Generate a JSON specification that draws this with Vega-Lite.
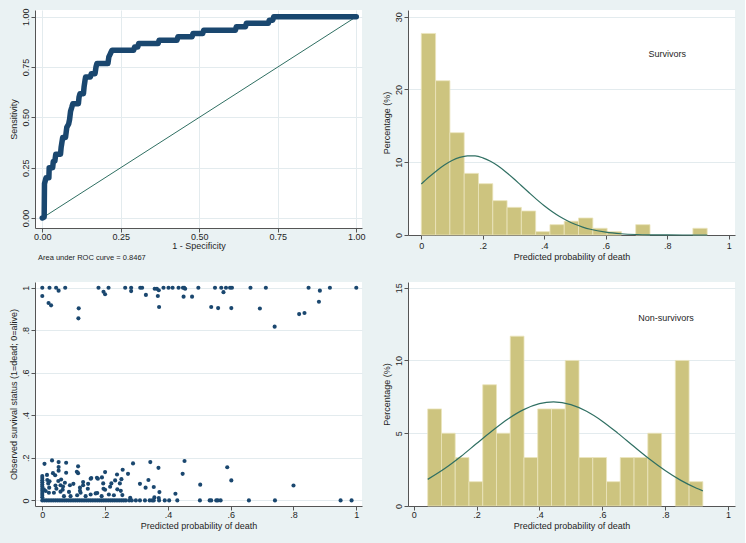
{
  "$schema": "https://vega.github.io/schema/vega-lite/v6.json",
  "background": "#eaf2f3",
  "padding": {"left": 9, "top": 7, "right": 10, "bottom": 15},
  "bounds": "flush",
  "columns": 2,
  "spacing": {"row": 47, "column": 46},
  "config": {
    "view": {"fill": "white", "stroke": null},
    "axis": {
      "domainColor": "#555555", "tickColor": "#555555", "domainWidth": 1, "tickWidth": 1, "tickSize": 4,
      "labelFont": "Liberation Sans", "labelFontSize": 9, "labelColor": "#1e1e1e",
      "titleFont": "Liberation Sans", "titleFontSize": 9, "titleFontWeight": "normal", "titleColor": "#1e1e1e",
      "gridColor": "#e3ebee", "gridWidth": 1, "labelPadding": 2, "titlePadding": 2,
      "labelFlush": false, "labelOverlap": false
    },
    "axisY": {"labelAngle": -90, "labelAlign": "center", "labelBaseline": "bottom", "labelPadding": 1, "titlePadding": 3},
    "text": {"font": "Liberation Sans"}
  },
  "datasets": {
    "roc": [
      {"fpr":0,"tpr":0},{"fpr":0.006,"tpr":0.005},{"fpr":0.007,"tpr":0.17},{"fpr":0.012,"tpr":0.2},{"fpr":0.021,"tpr":0.2},{"fpr":0.022,"tpr":0.25},{"fpr":0.033,"tpr":0.25},{"fpr":0.035,"tpr":0.28},{"fpr":0.04,"tpr":0.283},{"fpr":0.043,"tpr":0.317},{"fpr":0.058,"tpr":0.317},{"fpr":0.06,"tpr":0.35},{"fpr":0.062,"tpr":0.37},{"fpr":0.065,"tpr":0.4},{"fpr":0.074,"tpr":0.4},{"fpr":0.078,"tpr":0.45},{"fpr":0.084,"tpr":0.467},{"fpr":0.087,"tpr":0.49},{"fpr":0.09,"tpr":0.53},{"fpr":0.094,"tpr":0.55},{"fpr":0.097,"tpr":0.567},{"fpr":0.115,"tpr":0.567},{"fpr":0.117,"tpr":0.6},{"fpr":0.12,"tpr":0.617},{"fpr":0.131,"tpr":0.617},{"fpr":0.133,"tpr":0.65},{"fpr":0.136,"tpr":0.683},{"fpr":0.138,"tpr":0.7},{"fpr":0.153,"tpr":0.7},{"fpr":0.156,"tpr":0.717},{"fpr":0.168,"tpr":0.717},{"fpr":0.171,"tpr":0.75},{"fpr":0.174,"tpr":0.767},{"fpr":0.209,"tpr":0.767},{"fpr":0.212,"tpr":0.8},{"fpr":0.217,"tpr":0.817},{"fpr":0.222,"tpr":0.833},{"fpr":0.291,"tpr":0.833},{"fpr":0.294,"tpr":0.85},{"fpr":0.304,"tpr":0.85},{"fpr":0.307,"tpr":0.867},{"fpr":0.369,"tpr":0.867},{"fpr":0.372,"tpr":0.883},{"fpr":0.429,"tpr":0.883},{"fpr":0.432,"tpr":0.9},{"fpr":0.477,"tpr":0.9},{"fpr":0.48,"tpr":0.917},{"fpr":0.511,"tpr":0.917},{"fpr":0.514,"tpr":0.933},{"fpr":0.615,"tpr":0.933},{"fpr":0.618,"tpr":0.95},{"fpr":0.647,"tpr":0.95},{"fpr":0.65,"tpr":0.967},{"fpr":0.72,"tpr":0.967},{"fpr":0.723,"tpr":0.983},{"fpr":0.734,"tpr":0.983},{"fpr":0.737,"tpr":1},{"fpr":1,"tpr":1}
    ],
    "diag": [{"fpr":0,"tpr":0},{"fpr":1,"tpr":1}],
    "surv": [
      {"b0":0,"b1":0.0465,"pct":27.7},{"b0":0.0465,"b1":0.093,"pct":21.2},{"b0":0.093,"b1":0.1395,"pct":14.06},{"b0":0.1395,"b1":0.186,"pct":8.47},{"b0":0.186,"b1":0.2325,"pct":7.05},{"b0":0.2325,"b1":0.279,"pct":4.72},{"b0":0.279,"b1":0.3255,"pct":3.8},{"b0":0.3255,"b1":0.372,"pct":3.3},{"b0":0.372,"b1":0.4185,"pct":0.46},{"b0":0.4185,"b1":0.465,"pct":1.42},{"b0":0.465,"b1":0.5115,"pct":1.9},{"b0":0.5115,"b1":0.558,"pct":2.34},{"b0":0.558,"b1":0.6045,"pct":0.92},{"b0":0.6045,"b1":0.651,"pct":0.46},{"b0":0.6975,"b1":0.744,"pct":1.42},{"b0":0.8835,"b1":0.93,"pct":0.92}
    ],
    "survCurve": [
      {"p":0,"pct":7.0},{"p":0.025,"pct":7.96},{"p":0.05,"pct":8.84},{"p":0.075,"pct":9.62},{"p":0.1,"pct":10.24},{"p":0.125,"pct":10.67},{"p":0.15,"pct":10.88},{"p":0.175,"pct":10.86},{"p":0.2,"pct":10.6},{"p":0.225,"pct":10.13},{"p":0.25,"pct":9.48},{"p":0.275,"pct":8.67},{"p":0.3,"pct":7.77},{"p":0.325,"pct":6.8},{"p":0.35,"pct":5.84},{"p":0.375,"pct":4.9},{"p":0.4,"pct":4.02},{"p":0.425,"pct":3.23},{"p":0.45,"pct":2.54},{"p":0.475,"pct":1.96},{"p":0.5,"pct":1.47},{"p":0.525,"pct":1.09},{"p":0.55,"pct":0.785},{"p":0.6,"pct":0.384},{"p":0.65,"pct":0.172},{"p":0.7,"pct":0.07},{"p":0.75,"pct":0.027},{"p":0.8,"pct":0.009},{"p":0.85,"pct":0.003},{"p":0.9,"pct":0.001},{"p":0.93,"pct":0.0}
    ],
    "nonsurv": [
      {"b0":0.0446,"b1":0.0884,"pct":6.67},{"b0":0.0884,"b1":0.1321,"pct":5},{"b0":0.1321,"b1":0.1759,"pct":3.33},{"b0":0.1759,"b1":0.2197,"pct":1.67},{"b0":0.2197,"b1":0.2634,"pct":8.33},{"b0":0.2634,"b1":0.3072,"pct":5},{"b0":0.3072,"b1":0.351,"pct":11.67},{"b0":0.351,"b1":0.3947,"pct":3.33},{"b0":0.3947,"b1":0.4385,"pct":6.67},{"b0":0.4385,"b1":0.4823,"pct":6.67},{"b0":0.4823,"b1":0.526,"pct":10},{"b0":0.526,"b1":0.5698,"pct":3.33},{"b0":0.5698,"b1":0.6136,"pct":3.33},{"b0":0.6136,"b1":0.6573,"pct":1.67},{"b0":0.6573,"b1":0.7011,"pct":3.33},{"b0":0.7011,"b1":0.7449,"pct":3.33},{"b0":0.7449,"b1":0.7886,"pct":5},{"b0":0.8324,"b1":0.8762,"pct":10},{"b0":0.8762,"b1":0.92,"pct":1.67}
    ],
    "nonsurvCurve": [
      {"p":0.0446,"pct":1.83},{"p":0.1,"pct":2.59},{"p":0.15,"pct":3.4},{"p":0.2,"pct":4.29},{"p":0.25,"pct":5.17},{"p":0.3,"pct":5.98},{"p":0.35,"pct":6.62},{"p":0.4,"pct":7.03},{"p":0.445,"pct":7.15},{"p":0.5,"pct":6.97},{"p":0.55,"pct":6.51},{"p":0.6,"pct":5.83},{"p":0.65,"pct":4.99},{"p":0.7,"pct":4.1},{"p":0.75,"pct":3.23},{"p":0.8,"pct":2.44},{"p":0.85,"pct":1.76},{"p":0.9,"pct":1.22},{"p":0.92,"pct":1.04}
    ],
    "scatter": [
      {"p":0,"o":1},{"p":0,"o":0.961},{"p":0.023,"o":1},{"p":0.02,"o":0.928},{"p":0.028,"o":0.917},{"p":0.044,"o":1},{"p":0.052,"o":0.986},{"p":0.073,"o":1},{"p":0.116,"o":0.903},{"p":0.115,"o":0.856},{"p":0.179,"o":1},{"p":0.195,"o":0.981},{"p":0.2,"o":0.969},{"p":0.211,"o":1},{"p":0.264,"o":1},{"p":0.283,"o":1},{"p":0.283,"o":0.984},{"p":0.312,"o":1},{"p":0.318,"o":1},{"p":0.33,"o":0.966},{"p":0.358,"o":0.995},{"p":0.365,"o":0.995},{"p":0.368,"o":0.961},{"p":0.372,"o":0.909},{"p":0.371,"o":0.988},{"p":0.386,"o":1},{"p":0.402,"o":1},{"p":0.415,"o":1},{"p":0.434,"o":1},{"p":0.448,"o":1},{"p":0.452,"o":1},{"p":0.455,"o":0.995},{"p":0.45,"o":0.958},{"p":0.477,"o":0.958},{"p":0.497,"o":1},{"p":0.538,"o":0.909},{"p":0.55,"o":1},{"p":0.56,"o":0.904},{"p":0.57,"o":1},{"p":0.577,"o":0.979},{"p":0.585,"o":1},{"p":0.598,"o":1},{"p":0.604,"o":1},{"p":0.602,"o":0.904},{"p":0.663,"o":1},{"p":0.693,"o":0.902},{"p":0.712,"o":1},{"p":0.74,"o":0.817},{"p":0.818,"o":0.876},{"p":0.835,"o":0.881},{"p":0.848,"o":1},{"p":0.881,"o":0.934},{"p":0.884,"o":0.986},{"p":0.916,"o":1},{"p":1,"o":1},
      {"p":0.007,"o":0.172},{"p":0.031,"o":0.188},{"p":0.052,"o":0.18},{"p":0.052,"o":0.157},{"p":0.076,"o":0.177},{"p":0.114,"o":0.16},{"p":0.11,"o":0.135},{"p":0.289,"o":0.174},{"p":0.344,"o":0.18},{"p":0.37,"o":0.153},{"p":0.453,"o":0.185},{"p":0.447,"o":0.125},{"p":0.589,"o":0.156},
      {"p":0,"o":0.115},{"p":0,"o":0.105},{"p":0.015,"o":0.12},{"p":0.034,"o":0.128},{"p":0.041,"o":0.118},{"p":0.052,"o":0.14},{"p":0.076,"o":0.13},{"p":0.06,"o":0.098},{"p":0.114,"o":0.128},{"p":0.156,"o":0.105},{"p":0.174,"o":0.106},{"p":0.19,"o":0.108},{"p":0.2,"o":0.133},{"p":0.238,"o":0.122},{"p":0.256,"o":0.144},{"p":0.273,"o":0.125},{"p":0.252,"o":0.1},
      {"p":0,"o":0.095},{"p":0,"o":0.085},{"p":0,"o":0.075},{"p":0,"o":0.065},{"p":0,"o":0.055},{"p":0,"o":0.045},{"p":0,"o":0.035},{"p":0,"o":0.025},{"p":0,"o":0.015},
      {"p":0.016,"o":0.096},{"p":0.023,"o":0.09},{"p":0.019,"o":0.08},{"p":0.051,"o":0.091},{"p":0.058,"o":0.071},{"p":0.072,"o":0.083},{"p":0.088,"o":0.071},{"p":0.099,"o":0.078},{"p":0.13,"o":0.086},{"p":0.13,"o":0.071},{"p":0.146,"o":0.078},{"p":0.154,"o":0.102},{"p":0.177,"o":0.102},{"p":0.194,"o":0.08},{"p":0.216,"o":0.064},{"p":0.22,"o":0.08},{"p":0.232,"o":0.094},{"p":0.247,"o":0.08},{"p":0.239,"o":0.052},{"p":0.255,"o":0.025},{"p":0.311,"o":0.078},{"p":0.329,"o":0.06},{"p":0.338,"o":0.096},{"p":0.355,"o":0.063},{"p":0.373,"o":0.039},{"p":0.424,"o":0.031},{"p":0.503,"o":0.074},{"p":0.602,"o":0.094},{"p":0.8,"o":0.07},
      {"p":0.005,"o":0.052},{"p":0.011,"o":0.044},{"p":0.021,"o":0.036},{"p":0.037,"o":0.036},{"p":0.058,"o":0.041},{"p":0.069,"o":0.02},{"p":0.09,"o":0.02},{"p":0.111,"o":0.024},{"p":0.122,"o":0.036},{"p":0.138,"o":0.02},{"p":0.154,"o":0.028},{"p":0.17,"o":0.033},{"p":0.189,"o":0.02},{"p":0.212,"o":0.028},{"p":0.228,"o":0.024},{"p":0.022,"o":0.06},{"p":0.045,"o":0.055},{"p":0.065,"o":0.05},{"p":0.085,"o":0.04},{"p":0.12,"o":0.045},{"p":0.145,"o":0.055},{"p":0.175,"o":0.035},{"p":0.195,"o":0.055},{"p":0.042,"o":0.07},{"p":0.066,"o":0.065},{"p":0.12,"o":0.06},{"p":0.28,"o":0.012},{"p":0.371,"o":0.011},{"p":0.357,"o":0.014},{"p":0.2,"o":0.05},{"p":0.25,"o":0.045},
      {"p":0,"o":0},{"p":0.007,"o":0},{"p":0.014,"o":0},{"p":0.021,"o":0},{"p":0.028,"o":0},{"p":0.035,"o":0},{"p":0.042,"o":0},{"p":0.049,"o":0},{"p":0.056,"o":0},{"p":0.063,"o":0},{"p":0.07,"o":0},{"p":0.077,"o":0},{"p":0.084,"o":0},{"p":0.091,"o":0},{"p":0.098,"o":0},{"p":0.105,"o":0},{"p":0.112,"o":0},{"p":0.119,"o":0},{"p":0.126,"o":0},{"p":0.133,"o":0},{"p":0.14,"o":0},{"p":0.147,"o":0},{"p":0.154,"o":0},{"p":0.161,"o":0},{"p":0.168,"o":0},{"p":0.175,"o":0},{"p":0.182,"o":0},{"p":0.189,"o":0},{"p":0.196,"o":0},{"p":0.203,"o":0},{"p":0.21,"o":0},{"p":0.217,"o":0},{"p":0.224,"o":0},{"p":0.231,"o":0},{"p":0.238,"o":0},{"p":0.245,"o":0},{"p":0.252,"o":0},{"p":0.259,"o":0},{"p":0.266,"o":0},{"p":0.277,"o":0},{"p":0.285,"o":0},{"p":0.298,"o":0},{"p":0.311,"o":0},{"p":0.327,"o":0},{"p":0.342,"o":0},{"p":0.35,"o":0},{"p":0.355,"o":0},{"p":0.372,"o":0},{"p":0.39,"o":0},{"p":0.404,"o":0},{"p":0.43,"o":0},{"p":0.502,"o":0},{"p":0.533,"o":0},{"p":0.538,"o":0},{"p":0.554,"o":0},{"p":0.559,"o":0},{"p":0.568,"o":0},{"p":0.658,"o":0},{"p":0.741,"o":0},{"p":0.95,"o":0},{"p":0.985,"o":0}
    ]
  },
  "concat": [
    {
      "width": 327, "height": 218,
      "title": {"text": "Area under ROC curve = 0.8467", "orient": "bottom", "anchor": "start", "frame": "group", "fontSize": 7.5, "fontWeight": "normal", "font": "Liberation Sans", "color": "#1e1e1e", "offset": 4, "dx": 3},
      "layer": [
        {
          "data": {"name": "diag"},
          "mark": {"type": "line", "color": "#2f6f62", "strokeWidth": 1},
          "encoding": {
            "x": {"field": "fpr", "type": "quantitative", "scale": {"domain": [-0.0232, 1.0182], "nice": false, "zero": false},
                  "axis": {"values": [0, 0.25, 0.5, 0.75, 1], "format": ".2f", "title": "1 - Specificity", "grid": true, "labelPadding": 0, "titlePadding": 0}},
            "y": {"field": "tpr", "type": "quantitative", "scale": {"domain": [-0.0497, 1.0333], "nice": false, "zero": false},
                  "axis": {"values": [0, 0.25, 0.5, 0.75, 1], "format": ".2f", "title": "Sensitivity", "grid": true}}
          }
        },
        {
          "data": {"name": "roc"},
          "mark": {"type": "line", "color": "#1a476f", "strokeWidth": 5.5, "strokeJoin": "round", "strokeCap": "round"},
          "encoding": {
            "x": {"field": "fpr", "type": "quantitative"},
            "y": {"field": "tpr", "type": "quantitative"}
          }
        }
      ]
    },
    {
      "width": 327, "height": 225,
      "layer": [
        {
          "data": {"name": "surv"},
          "mark": {"type": "rect", "color": "#cdc47f", "stroke": "#ebe5bd", "strokeWidth": 0.8},
          "encoding": {
            "x": {"field": "b0", "type": "quantitative", "scale": {"domain": [-0.0433, 1.0205], "nice": false, "zero": false},
                  "axis": {"values": [0, 0.2, 0.4, 0.6, 0.8, 1], "labelExpr": "datum.value == 0 ? '0' : datum.value == 1 ? '1' : '.' + round(datum.value * 10)", "title": "Predicted probability of death", "grid": false}},
            "x2": {"field": "b1"},
            "y": {"field": "pct", "type": "quantitative", "scale": {"domain": [0, 30.92], "nice": false},
                  "axis": {"values": [0, 10, 20, 30], "title": "Percentage (%)", "grid": true}},
            "y2": {"datum": 0}
          }
        },
        {
          "data": {"name": "survCurve"},
          "mark": {"type": "line", "color": "#2f6f62", "strokeWidth": 1.2, "interpolate": "monotone"},
          "encoding": {
            "x": {"field": "p", "type": "quantitative"},
            "y": {"field": "pct", "type": "quantitative"}
          }
        },
        {
          "data": {"values": [{}]},
          "mark": {"type": "text", "text": "Survivors", "fontSize": 9, "color": "#1e1e1e", "align": "center", "baseline": "middle"},
          "encoding": {"x": {"datum": 0.8, "type": "quantitative"}, "y": {"datum": 24.9, "type": "quantitative"}}
        }
      ]
    },
    {
      "width": 327, "height": 224,
      "data": {"name": "scatter"},
      "mark": {"type": "circle", "color": "#1a476f", "opacity": 1, "size": 17},
      "encoding": {
        "x": {"field": "p", "type": "quantitative", "scale": {"domain": [-0.0232, 1.0182], "nice": false, "zero": false},
              "axis": {"values": [0, 0.2, 0.4, 0.6, 0.8, 1], "labelExpr": "datum.value == 0 ? '0' : datum.value == 1 ? '1' : '.' + round(datum.value * 10)", "title": "Predicted probability of death", "grid": false, "labelPadding": 0}},
        "y": {"field": "o", "type": "quantitative", "scale": {"domain": [-0.0263, 1.0268], "nice": false, "zero": false},
              "axis": {"values": [0, 0.2, 0.4, 0.6, 0.8, 1], "labelExpr": "datum.value == 0 ? '0' : datum.value == 1 ? '1' : '.' + round(datum.value * 10)", "title": "Observed survival status (1=dead; 0=alive)", "grid": true}}
      }
    },
    {
      "width": 327, "height": 224,
      "layer": [
        {
          "data": {"name": "nonsurv"},
          "mark": {"type": "rect", "color": "#cdc47f", "stroke": "#ebe5bd", "strokeWidth": 0.8},
          "encoding": {
            "x": {"field": "b0", "type": "quantitative", "scale": {"domain": [-0.0181, 1.0223], "nice": false, "zero": false},
                  "axis": {"values": [0, 0.2, 0.4, 0.6, 0.8, 1], "labelExpr": "datum.value == 0 ? '0' : datum.value == 1 ? '1' : '.' + round(datum.value * 10)", "title": "Predicted probability of death", "grid": false, "labelPadding": 0}},
            "x2": {"field": "b1"},
            "y": {"field": "pct", "type": "quantitative", "scale": {"domain": [0, 15.39], "nice": false},
                  "axis": {"values": [0, 5, 10, 15], "title": "Percentage (%)", "grid": true}},
            "y2": {"datum": 0}
          }
        },
        {
          "data": {"name": "nonsurvCurve"},
          "mark": {"type": "line", "color": "#2f6f62", "strokeWidth": 1.2, "interpolate": "monotone"},
          "encoding": {
            "x": {"field": "p", "type": "quantitative"},
            "y": {"field": "pct", "type": "quantitative"}
          }
        },
        {
          "data": {"values": [{}]},
          "mark": {"type": "text", "text": "Non-survivors", "fontSize": 9, "color": "#1e1e1e", "align": "center", "baseline": "middle"},
          "encoding": {"x": {"datum": 0.803, "type": "quantitative"}, "y": {"datum": 12.9, "type": "quantitative"}}
        }
      ]
    }
  ]
}
